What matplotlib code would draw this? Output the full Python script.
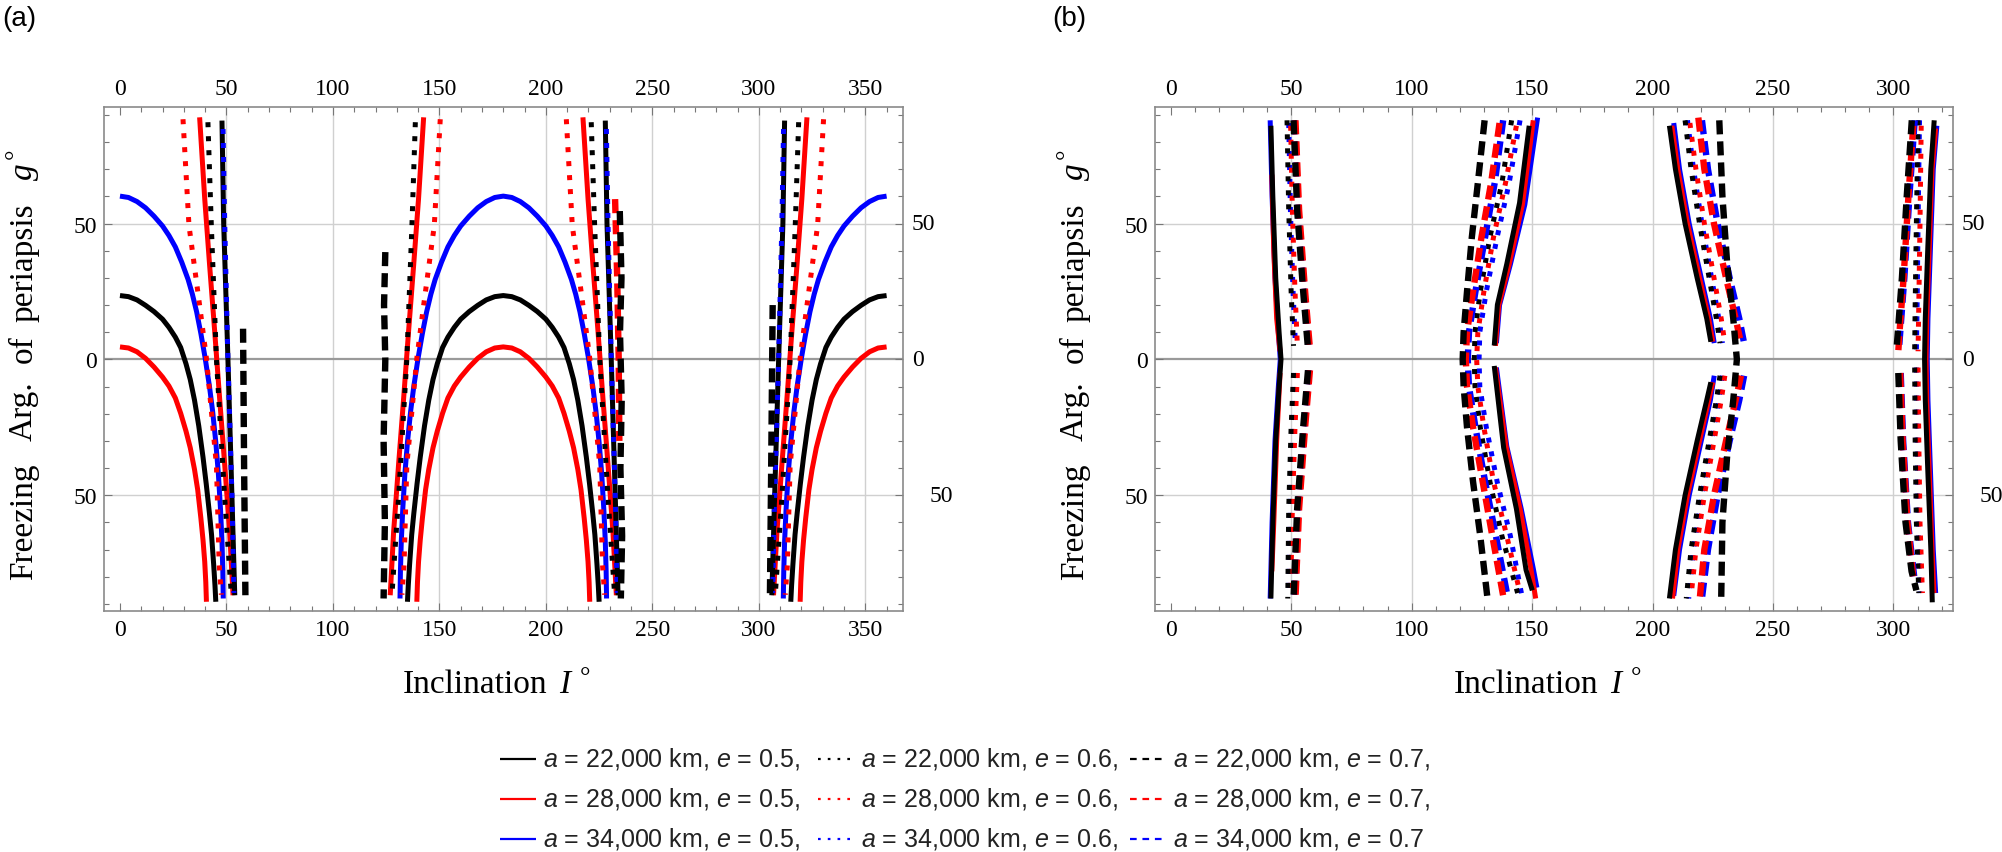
import matplotlib
matplotlib.use("Agg")
import matplotlib.pyplot as plt
import matplotlib.transforms as mtransforms
from matplotlib.lines import Line2D
from matplotlib.ticker import MultipleLocator, FixedLocator

# ------------------------------------------------------------------ data
# Inclination I (deg) and freezing argument of periapsis g (deg).
# Each series is a list of curve segments (I values, g values).

# panel (a)
pa_a22_e05 = [
    ([0, 4, 8, 12, 16, 20, 23, 26, 28.5, 31, 33, 35, 37, 39, 40.5, 42, 43, 44, 44.6, 45],
     [23.5, 23.1, 21.9, 19.9, 17.6, 14.8, 11.8, 8.2, 4.4, -1.6, -7.4, -15.0, -24.5, -36,
      -45.8, -56.6, -64.5, -75.5, -83, -89.2]),
    ([47.9, 48.7, 50.7, 52.6, 53.9], [87.9, 50, 0, -51, -86.8]),
    ([135, 135.4, 136, 137, 138, 139.5, 141, 143, 145, 147, 149, 151.5, 154, 157, 160, 164,
      168, 172, 176, 180, 184, 188, 192, 196, 200, 203, 206, 208.5, 211, 213, 215, 217, 219,
      220.5, 222, 223, 224, 224.6, 225],
     [-89.2, -83, -75.5, -64.5, -56.6, -45.8, -36, -24.5, -15.0, -7.4, -1.6, 4.4, 8.2, 11.8,
      14.8, 17.6, 19.9, 21.9, 23.1, 23.5, 23.1, 21.9, 19.9, 17.6, 14.8, 11.8, 8.2, 4.4, -1.6,
      -7.4, -15.0, -24.5, -36, -45.8, -56.6, -64.5, -75.5, -83, -89.2]),
    ([227.9, 228.7, 230.7, 232.6, 233.9], [87.9, 50, 0, -51, -86.8]),
    ([312.1, 311.3, 309.3, 307.4, 306.1], [87.9, 50, 0, -51, -86.8]),
    ([315, 315.4, 316, 317, 318, 319.5, 321, 323, 325, 327, 329, 331.5, 334, 337, 340, 344,
      348, 352, 356, 360],
     [-89.2, -83, -75.5, -64.5, -56.6, -45.8, -36, -24.5, -15.0, -7.4, -1.6, 4.4, 8.2, 11.8,
      14.8, 17.6, 19.9, 21.9, 23.1, 23.5]),
]
pa_a28_e05 = [
    ([0, 4, 8, 12, 16, 20, 23, 26, 28.5, 31, 33, 35, 36.5, 38, 39, 39.8, 40.3, 40.6],
     [4.6, 4.2, 2.8, 0.4, -2.8, -6.5, -9.8, -14.2, -19.8, -26.4, -32.5, -40.5, -48, -58.5,
      -66.5, -74.5, -82, -89.2]),
    ([37.4, 39.8, 42.1, 44.5, 46.8, 49.2, 51.5, 53.1],
     [89.1, 59.1, 34.6, 10.1, -14.4, -39.0, -63.5, -86.8]),
    ([139.4, 139.7, 140.2, 141, 142, 143.5, 145, 147, 149, 151.5, 154, 157, 160, 164, 168,
      172, 176, 180, 184, 188, 192, 196, 200, 203, 206, 208.5, 211, 213, 215, 216.5, 218,
      219, 219.8, 220.3, 220.6],
     [-89.2, -82, -74.5, -66.5, -58.5, -48, -40.5, -32.5, -26.4, -19.8, -14.2, -9.8, -6.5,
      -2.8, 0.4, 2.8, 4.2, 4.6, 4.2, 2.8, 0.4, -2.8, -6.5, -9.8, -14.2, -19.8, -26.4, -32.5,
      -40.5, -48, -58.5, -66.5, -74.5, -82, -89.2]),
    ([142.6, 140.2, 137.9, 135.5, 133.2, 130.8, 128.5, 126.9],
     [89.1, 59.1, 34.6, 10.1, -14.4, -39.0, -63.5, -86.8]),
    ([217.4, 219.8, 222.1, 224.5, 226.8, 229.2, 231.5, 233.1],
     [89.1, 59.1, 34.6, 10.1, -14.4, -39.0, -63.5, -86.8]),
    ([322.6, 320.2, 317.9, 315.5, 313.2, 310.8, 308.5, 306.9],
     [89.1, 59.1, 34.6, 10.1, -14.4, -39.0, -63.5, -86.8]),
    ([319.4, 319.7, 320.2, 321, 322, 323.5, 325, 327, 329, 331.5, 334, 337, 340, 344, 348,
      352, 356, 360],
     [-89.2, -82, -74.5, -66.5, -58.5, -48, -40.5, -32.5, -26.4, -19.8, -14.2, -9.8, -6.5,
      -2.8, 0.4, 2.8, 4.2, 4.6]),
]
pa_a34_e05 = [
    ([0, 4, 8, 12, 16, 20, 23, 26, 29, 32, 34, 36, 38, 40, 42, 43.5, 45, 46.2, 47.2, 47.9,
      48.3, 48.5],
     [60.1, 59.6, 58.1, 55.8, 52.7, 49.1, 45.6, 41.4, 35.8, 29.4, 24, 17.5, 9.5, 0.5, -9.8,
      -19, -30.5, -42, -55, -67, -78, -88]),
    ([131.5, 131.7, 132.1, 132.8, 133.8, 135, 136.5, 138, 140, 142, 144, 146, 148, 151, 154,
      157, 160, 164, 168, 172, 176, 180, 184, 188, 192, 196, 200, 203, 206, 209, 212, 214,
      216, 218, 220, 222, 223.5, 225, 226.2, 227.2, 227.9, 228.3, 228.5],
     [-88, -78, -67, -55, -42, -30.5, -19, -9.8, 0.5, 9.5, 17.5, 24, 29.4, 35.8, 41.4, 45.6,
      49.1, 52.7, 55.8, 58.1, 59.6, 60.1, 59.6, 58.1, 55.8, 52.7, 49.1, 45.6, 41.4, 35.8,
      29.4, 24, 17.5, 9.5, 0.5, -9.8, -19, -30.5, -42, -55, -67, -78, -88]),
    ([311.5, 311.7, 312.1, 312.8, 313.8, 315, 316.5, 318, 320, 322, 324, 326, 328, 331, 334,
      337, 340, 344, 348, 352, 356, 360],
     [-88, -78, -67, -55, -42, -30.5, -19, -9.8, 0.5, 9.5, 17.5, 24, 29.4, 35.8, 41.4, 45.6,
      49.1, 52.7, 55.8, 58.1, 59.6, 60.1]),
]
pa_a22_e06 = [
    ([41.3, 42.9, 45.3, 49.2, 52.3], [87.3, 49.3, 0, -51.2, -86.8]),
    ([138.7, 137.1, 134.7, 130.8, 127.7], [87.3, 49.3, 0, -51.2, -86.8]),
    ([221.3, 222.9, 225.3, 229.2, 232.3], [87.3, 49.3, 0, -51.2, -86.8]),
    ([318.7, 317.1, 314.7, 310.8, 307.7], [87.3, 49.3, 0, -51.2, -86.8]),
]
pa_a28_e06 = [
    ([29.6, 32.4, 37.4, 40.6, 45.3, 46.6, 47.6], [88.4, 49.3, 19.9, 0.4, -39, -75.7, -86.6]),
    ([150.4, 147.6, 142.6, 139.4, 134.7, 133.4, 132.4], [88.4, 49.3, 19.9, 0.4, -39, -75.7, -86.6]),
    ([209.6, 212.4, 217.4, 220.6, 225.3, 226.6, 227.6], [88.4, 49.3, 19.9, 0.4, -39, -75.7, -86.6]),
    ([330.4, 327.6, 322.6, 319.4, 314.7, 313.4, 312.4], [88.4, 49.3, 19.9, 0.4, -39, -75.7, -86.6]),
]
pa_a34_e06 = [
    ([48.4, 49.2, 50.7, 52.6, 53.5], [84.8, 49.3, 0, -51, -86]),
    ([228.4, 229.2, 230.7, 232.6, 233.5], [84.8, 49.3, 0, -51, -86]),
    ([311.6, 310.8, 309.3, 307.4, 306.5], [84.8, 49.3, 0, -51, -86]),
]
pa_a22_e07 = [
    ([57.8, 58.3, 58.9], [11.3, -40, -86.8]),
    ([124.6, 124.0, 124.6, 123.8, 124.4, 123.8], [39.5, 20, 0, -30, -60, -88]),
    ([234.7, 235.5, 234.8, 235.6, 235.0, 235.8, 235.2], [54.6, 30, 10, -15, -40, -65, -88]),
    ([306.5, 305.8, 305.2], [20, -40, -88]),
]
pa_a28_e07 = [
    ([232.5, 233.5, 234.2, 234.5], [59, 30, 0, -30]),
]
pa_a34_e07 = []

# panel (b)
pb_a22_e05 = [
    ([41.6, 42.4, 43.6, 45.0, 45.8, 45.0, 43.6, 42.4, 41.6], [86, 60, 30, 10, 0, -10, -30, -60, -88]),
    ([148.8, 144.8, 139.5, 135.6, 134.3], [86, 57.6, 35.1, 20.1, 5.1]),
    ([134.3, 138.2, 143.5, 147.5, 150.1], [-2.4, -32.5, -55, -77.5, -85]),
    ([207, 209.5, 213.5, 218.5, 222.5, 224.2], [86, 70, 50, 30, 15, 6.5]),
    ([224.2, 222.5, 218.5, 213.5, 209.5, 207], [-8.4, -15, -30, -50, -70, -88]),
    ([316.9, 315.5, 314.2, 313.2, 312.9, 313.2, 314.2, 315.5, 316.1], [88, 70, 40, 15, 0, -15, -40, -70, -89.4]),
]
pb_a28_e05 = [
    ([42.0, 42.8, 44.0, 45.4], [68, 40, 15, 3]),
    ([45.4, 44.0, 42.8, 42.0], [-5, -30, -60, -78]),
    ([150.5, 146, 140.5, 136.2, 134.8], [88, 57, 35, 20, 5]),
    ([134.8, 139.2, 145, 149.5, 151.5], [-3, -32, -55, -77, -88]),
    ([208, 210.5, 214.5, 219.5, 223.3, 225], [86, 70, 50, 30, 15, 6.5]),
    ([225, 223.3, 219.5, 214.5, 210.5, 208.3], [-8.4, -15, -30, -50, -70, -88]),
    ([317.5, 316, 314.8, 313.8, 313.5, 313.8, 314.8, 316, 316.8], [85, 70, 40, 15, 0, -15, -40, -70, -86]),
]
pb_a34_e05 = [
    ([41.3, 42.1, 43.3, 44.7, 45.5, 44.7, 43.3, 42.1, 41.3], [88, 60, 30, 10, 0, -10, -30, -60, -88]),
    ([152.3, 147, 141, 136.5, 135.2], [89, 57, 35, 20, 6]),
    ([135.2, 139.5, 145.5, 150.5, 152], [-3, -32, -55, -77, -84]),
    ([208.8, 211.2, 215.2, 220.2, 224, 225.6], [87, 70, 50, 30, 15, 6]),
    ([225.6, 224, 220.2, 215.2, 211.2, 208.8], [-6, -15, -30, -50, -70, -87]),
    ([318, 316.5, 315.3, 314.3, 314, 314.3, 315.3, 316.5, 317.5], [86, 70, 40, 15, 0, -15, -40, -70, -86]),
]
pb_a22_e06 = [
    ([48.3, 49.0, 50.0, 51.0], [88, 55, 25, 5]),
    ([51.0, 50.0, 49.0, 48.6], [-5, -25, -55, -88]),
    ([141.5, 137.5, 132.5, 128.5, 126.3, 126.0, 126.3, 128.5, 132.5, 137.5, 144],
     [88, 65, 45, 25, 10, 0, -10, -25, -45, -65, -86]),
    ([213.5, 216, 219.5, 223.5, 226.5, 228], [88, 70, 50, 30, 15, 6]),
    ([228, 226.5, 223.5, 219.5, 216, 214], [-6, -15, -30, -50, -70, -88]),
    ([310.2, 309.5, 309, 308.8], [88, 50, 20, 3]),
    ([308.8, 309, 309.5, 310.5], [-3, -30, -60, -86]),
]
pb_a28_e06 = [
    ([49.8, 50.5, 51.6, 52.6], [86, 55, 25, 5]),
    ([52.6, 51.6, 50.5, 49.8], [-5, -25, -55, -86]),
    ([143.5, 139, 134, 130, 127.5, 127, 127.5, 130, 134, 139.5, 145],
     [86, 65, 45, 25, 10, 0, -10, -25, -45, -65, -86]),
    ([215.5, 218, 221.5, 225.5, 228.5, 230], [87, 70, 50, 30, 15, 6]),
    ([230, 228.5, 225.5, 221.5, 218, 216], [-6, -15, -30, -50, -70, -87]),
    ([311.5, 311, 310.5, 310.2], [86, 50, 20, 3]),
    ([310.2, 310.5, 311, 312], [-3, -30, -60, -86]),
]
pb_a34_e06 = [
    ([49.0, 49.7, 50.8, 51.8], [87, 55, 25, 5]),
    ([51.8, 50.8, 49.7, 49.0], [-5, -25, -55, -87]),
    ([145, 140.5, 135.5, 131, 128.3, 128, 128.3, 131, 135.5, 141, 146],
     [88, 65, 45, 25, 10, 0, -10, -25, -45, -65, -88]),
    ([214.5, 217, 220.5, 224.5, 227.5, 229], [88, 70, 50, 30, 15, 6]),
    ([229, 227.5, 224.5, 220.5, 217, 215], [-6, -15, -30, -50, -70, -88]),
    ([310.8, 310.2, 309.8, 309.5], [88, 50, 20, 3]),
    ([309.5, 309.8, 310.2, 311], [-3, -30, -60, -86]),
]
pb_a22_e07 = [
    ([51.0, 52.5, 55.0, 57.0], [88, 55, 25, 4]),
    ([57.0, 55.0, 52.5, 51.0], [-4, -25, -55, -88]),
    ([130.3, 127.5, 125, 123, 121.6, 121.2, 121.6, 123, 125.5, 128.5, 131.5],
     [88, 65, 45, 25, 10, 0, -10, -25, -45, -65, -88]),
    ([227.7, 229, 231, 233.5, 235, 233.5, 231, 229, 228.5], [88, 60, 35, 15, 0, -15, -35, -60, -88]),
    ([307.6, 305.5, 303.5, 301.8, 301.2], [88, 60, 30, 10, 3]),
    ([302, 303, 305, 307.5, 309.5], [-5, -30, -60, -78, -85]),
]
pb_a28_e07 = [
    ([51.8, 53.3, 55.8, 57.8], [88, 55, 25, 4]),
    ([57.8, 55.8, 53.3, 51.8], [-4, -25, -55, -88]),
    ([136.5, 133, 129, 125.5, 123, 122.5, 123, 125.5, 129.5, 133.5, 138],
     [87, 65, 45, 25, 10, 0, -10, -25, -45, -65, -87]),
    ([219, 221.5, 225.5, 230.5, 234.5, 236.7], [89, 70, 50, 30, 15, 6]),
    ([236.7, 234.5, 230.5, 225.5, 221.5, 219.5], [-6, -15, -30, -50, -70, -89]),
    ([308.2, 306.2, 304.2, 302.5, 302], [86, 60, 30, 10, 3]),
    ([302.8, 303.8, 305.8, 308.2], [-5, -30, -60, -80]),
]
pb_a34_e07 = [
    ([51.4, 52.9, 55.4, 57.4], [88, 55, 25, 4]),
    ([57.4, 55.4, 52.9, 51.4], [-4, -25, -55, -88]),
    ([138, 134.5, 130.5, 126.5, 123.8, 123.3, 123.8, 126.5, 130.5, 135, 140],
     [88, 65, 45, 25, 10, 0, -10, -25, -45, -65, -88]),
    ([220.5, 223, 227, 232, 236, 238], [88, 70, 50, 30, 15, 6]),
    ([238, 236, 232, 227, 223, 220.5], [-6, -15, -30, -50, -70, -88]),
    ([308.8, 306.6, 304.5, 302.8, 302.2], [88, 60, 30, 10, 3]),
    ([303, 304, 306, 308.6], [-5, -30, -60, -80]),
]

# legend texts (rows: a, columns: e)
semi_major_labels = ["22,000", "28,000", "34,000"]
ecc_labels = ["0.5", "0.6", "0.7"]

x_ticks_a = [0, 50, 100, 150, 200, 250, 300, 350]
x_ticks_b = [0, 50, 100, 150, 200, 250, 300]
y_ticks = [-50, 0, 50]
y_tick_labels = ["50", "0", "50"]

# ------------------------------------------------------------------ style
W, H, DPI = 2002, 853, 100
plt.rcParams["mathtext.fontset"] = "custom"
plt.rcParams["mathtext.it"] = "Liberation Sans:italic"
plt.rcParams["mathtext.rm"] = "Liberation Sans"

colors = {"22": "#000000", "28": "#ff0000", "34": "#0000ff"}
styles = {
    "0.5": dict(linestyle="-", lw=3.6),
    "0.6": dict(lw=3.6, dashes=(1.0, 1.8)),
    "0.7": dict(lw=4.6, dashes=(2.2, 1.1)),
}
SERIF = "Liberation Serif"
SANS = "Liberation Sans"

fig = plt.figure(figsize=(W / DPI, H / DPI), dpi=DPI)


def px_axes(l, t, r, b):
    return [l / W, 1 - b / H, (r - l) / W, (b - t) / H]


axa = fig.add_axes(px_axes(104, 108, 903, 612))
axb = fig.add_axes(px_axes(1155, 108, 1953, 612))

draw_order = [
    ("0.5", "34", pa_a34_e05, pb_a34_e05),
    ("0.5", "28", pa_a28_e05, pb_a28_e05),
    ("0.5", "22", pa_a22_e05, pb_a22_e05),
    ("0.6", "34", pa_a34_e06, pb_a34_e06),
    ("0.6", "28", pa_a28_e06, pb_a28_e06),
    ("0.6", "22", pa_a22_e06, pb_a22_e06),
    ("0.7", "34", pa_a34_e07, pb_a34_e07),
    ("0.7", "28", pa_a28_e07, pb_a28_e07),
    ("0.7", "22", pa_a22_e07, pb_a22_e07),
]
z = 3
for e, a, segs_a, segs_b in draw_order:
    for ax, segs in ((axa, segs_a), (axb, segs_b)):
        for I, g in segs:
            ax.plot(I, g, color=colors[a], solid_capstyle="butt", dash_capstyle="butt",
                    solid_joinstyle="round", zorder=z, **styles[e])
    z += 0.1

for ax, xt, xlim in ((axa, x_ticks_a, (-7.5, 367.7)), (axb, x_ticks_b, (-6.5, 324.7))):
    ax.set_xlim(*xlim)
    ax.set_ylim(-92.6, 92.9)
    ax.xaxis.set_major_locator(FixedLocator(xt))
    ax.xaxis.set_minor_locator(MultipleLocator(10))
    ax.yaxis.set_major_locator(FixedLocator(y_ticks))
    ax.yaxis.set_minor_locator(MultipleLocator(10))
    ax.set_xticklabels([str(v) for v in xt])
    ax.set_yticklabels(y_tick_labels)
    ax.tick_params(which="both", direction="in", top=True, bottom=True, left=True, right=True,
                   labeltop=True, labelbottom=True, labelleft=True, labelright=False,
                   color="#777777", width=0.8)
    ax.tick_params(which="major", length=6)
    ax.tick_params(which="minor", length=3.5)
    ax.tick_params(axis="x", which="major", pad=6, labelsize=17)
    ax.tick_params(axis="y", which="major", pad=5, labelsize=17)
    for lab in ax.get_xticklabels() + ax.get_yticklabels():
        lab.set_family(SERIF)
    for t in ax.xaxis.get_major_ticks():
        t.label2.set_family(SERIF)
    for sp in ax.spines.values():
        sp.set_color("#8a8a8a")
        sp.set_linewidth(1.2)
    for v in xt:
        if v > 0:
            ax.axvline(v, color="#d0d0d0", lw=1.0, zorder=1)
    for v in y_ticks:
        if v != 0:
            ax.axhline(v, color="#d0d0d0", lw=1.0, zorder=1)
    ax.axhline(0, color="#9a9a9a", lw=1.6, zorder=1.5)
    # right-hand tick labels (the lower one keeps the space of the lost minus sign)
    trans = mtransforms.blended_transform_factory(ax.transAxes, ax.transData)
    for v, lab in zip(y_ticks, y_tick_labels):
        dx = 27 if v < 0 else 9
        tr = mtransforms.offset_copy(trans, fig=fig, x=dx, y=0, units="dots")
        ax.text(1.0, v, lab, transform=tr, ha="left", va="center", fontsize=17, family=SERIF)


def ftxt(x, y, s, **kw):
    return fig.text(x / W, 1 - y / H, s, **kw)


# axis labels, panel offsets
for dx in (0, 1051):
    ftxt(403 + dx, 693, "Inclination", fontsize=24, family=SERIF, ha="left", va="baseline")
    ftxt(559 + dx, 693, "I", fontsize=24, family=SERIF, style="italic", ha="left", va="baseline")
    ftxt(580 + dx, 684, "\u00b0", fontsize=19, family=SERIF, ha="left", va="baseline")
    bx = 32 + dx
    for word, y0, st in (("Freezing", 580, "normal"), ("Arg.", 441, "normal"), ("of", 363, "normal"),
                         ("periapsis", 322, "normal"), ("g", 180, "italic")):
        ftxt(bx, y0, word, fontsize=24, family=SERIF, style=st, rotation=90,
             rotation_mode="anchor", ha="left", va="baseline")
    ftxt(bx - 10, 159, "\u00b0", fontsize=19, family=SERIF, rotation=90,
         rotation_mode="anchor", ha="left", va="baseline")

ftxt(2, 6, "(a)", fontsize=20, family=SANS, ha="left", va="top")
ftxt(1052, 6, "(b)", fontsize=20, family=SANS, ha="left", va="top")

# legend
handle_x = [500, 818, 1130]
baselines = [767, 807, 847]
handle_len = 36
leg_styles = {
    "0.5": dict(linestyle="-"),
    "0.6": dict(dashes=(1.2, 3.2)),
    "0.7": dict(dashes=(3.0, 2.6)),
}
for r, (a_key, a_lab) in enumerate(zip(["22", "28", "34"], semi_major_labels)):
    for c, e_lab in enumerate(ecc_labels):
        hx = handle_x[c]
        hy = baselines[r] - 7
        ln = Line2D([hx / W, (hx + handle_len) / W], [1 - hy / H, 1 - hy / H],
                    transform=fig.transFigure, color=colors[a_key], lw=1.6,
                    solid_capstyle="butt", dash_capstyle="butt", **leg_styles[e_lab])
        fig.add_artist(ln)
        txt = r"$a$ = " + a_lab + r" km, $e$ = " + e_lab
        if not (r == 2 and c == 2):
            txt += ","
        ftxt(hx + handle_len + 7, baselines[r], txt, fontsize=18, family=SANS,
             ha="left", va="baseline", color="#222222")

fig.savefig("out.png", dpi=DPI)
